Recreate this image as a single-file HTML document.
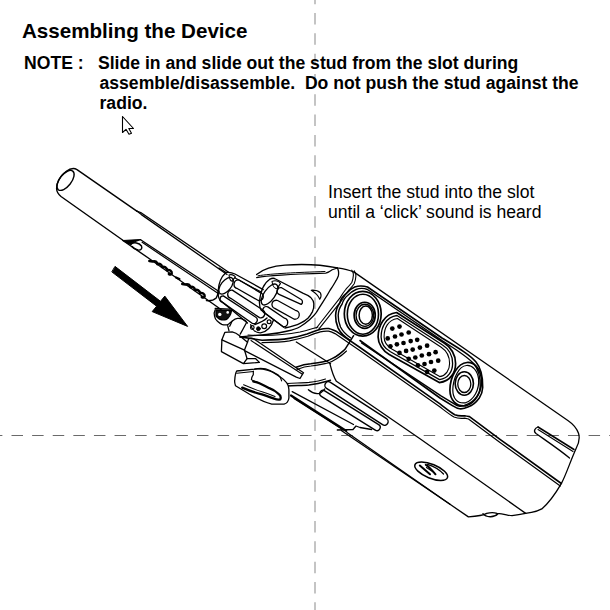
<!DOCTYPE html>
<html><head><meta charset="utf-8">
<style>
html,body{margin:0;padding:0;background:#fff;width:610px;height:610px;overflow:hidden;position:relative;font-family:"Liberation Sans",sans-serif;color:#000}
.t{position:absolute;white-space:nowrap;line-height:1}
#title{left:22px;top:20.5px;font-weight:bold;font-size:20.6px}
.note{font-weight:bold;font-size:17.6px}
.ins{font-size:17.6px}
svg{position:absolute;left:0;top:0}
</style></head><body>
<svg width="610" height="610" viewBox="0 0 610 610">
<line x1="315" y1="0" x2="315" y2="610" stroke="#c4c4c4" stroke-width="2" stroke-dasharray="11.5 8.82" stroke-dashoffset="7.32"/>
<line x1="0" y1="435.5" x2="610" y2="435.5" stroke="#6a6a6a" stroke-width="1" stroke-dasharray="11.5 9.11" stroke-dashoffset="9.11"/>

<g fill="none" stroke="#000" stroke-width="1.4" stroke-linecap="round" stroke-linejoin="round">
<!-- cursor -->
<path d="M122.5,116.5 L122.5,132.5 L126,129.3 L129,134.3 L131.5,133.3 L128.8,128.5 L133.5,128.5 Z" fill="#fff" stroke-width="1.1"/>
<!-- tube -->
<path d="M136.8,211.1 L77,169.6 C74,167.8 70,168.5 66,171.5 C60,176 56.5,183 56.6,188.5 C56.7,192 58,194 61,196.5 L122.9,240.3"/>
<ellipse cx="65.5" cy="180.4" rx="11.8" ry="5.9" transform="rotate(-52 65.5 180.4)"/>
<path d="M136.8,211.1 L140.7,212.5 L229,272.5" stroke-width="1.3"/>
<path d="M136.8,211.1 L141.4,214.6 L227,274.5" stroke-width="1.3"/>
<!-- slot -->
<path d="M140.6,239.8 L219,291.5" stroke-width="1.3"/>
<path d="M142.1,242.3 L219,294" stroke-width="1.2"/>
<path d="M122.9,240.5 L150.5,259.5 L221,309.5"/>
<path d="M206.4,300.6 C210,301 214,300 216.2,298 C217.5,296 218,293.5 218.2,291.4"/>
<path d="M123,240.5 L140.6,239.6 C137,240.5 133,242 131,244.5 C128,243.5 125.5,242 123,240.5 Z" fill="#000" stroke-width="1.2"/>
<path d="M131,244 C134,242 139,242.5 141.5,246 C142.5,248.5 141,250.5 138,250 C135.5,249.5 133,248 132,246.5" stroke-width="1.4"/>

<!-- cursive marks -->
<path d="M0,0.5 L3,-0.8 C5,-2.8 7,-3 8.5,-1 C10,-3 12.5,-3.2 14,-1 C15.5,-3 18.5,-3.2 20,-1 C21.5,-3 24.5,-3 25.5,-1 C26,0.5 25,1.5 23.5,1.2" transform="translate(149.6,260.5) rotate(32)" stroke-width="2.5"/>
<path d="M176,277.5 L179.4,279" stroke-width="2.2"/>
<path d="M0,0.5 L3,-0.8 C5,-2.8 7,-3 8.5,-1 C10,-3 12.5,-3.2 14,-1 C15.5,-3 18.5,-3.2 20,-1 C21.5,-3 24.5,-3 25.5,-1 C26,0.5 25,1.5 23.5,1.2" transform="translate(182.5,283.5) rotate(32)" stroke-width="2.5"/>
<!-- arrow -->
<path d="M115.3,266.6 L160.5,301.3 L164.8,296.1 L187.6,326.4 L152.2,311.6 L156.6,306.2 L112.1,272.1 Z" fill="#000" stroke-width="1"/>
</g>

<g fill="none" stroke="#000" stroke-width="1.3" stroke-linecap="round" stroke-linejoin="round">
<!-- knob 1 -->
<path d="M219,268 L226,272.5 C229,272 232,272.5 235,274 L263.2,289.6"/>
<path d="M234.7,277.8 L261.2,292.1" stroke-width="1.1"/>
<path d="M226,272.5 C221,277 218.5,284 218.2,290.9 C218,294 218.5,298 219.8,300 L247.5,323.1"/>
<ellipse cx="226" cy="285.8" rx="9.8" ry="5" transform="rotate(-52 226 285.8)"/>
<path d="M229,275 C231,274 234,275 235.5,277 C234,278 233,279 233,281 C231,281.5 229.5,280 229,275 Z" stroke-width="1.1"/>
<path d="M238.6,279.8 L260.2,292.6 A4,4 0 0 1 258.3,300.5 L237.6,288.7 A4.5,4.5 0 0 1 238.6,279.8 Z"/>
<path d="M232.3,290.1 L262.5,309.8 A4.2,4.2 0 0 1 259.5,317.6 L230.7,298.3 A4.2,4.2 0 0 1 232.3,290.1 Z"/>
<path d="M223.3,295.9 L255.5,317 A3.6,3.6 0 0 1 252.5,323.5 L222.5,302.4 A3.3,3.3 0 0 1 223.3,295.9 Z"/>
<!-- knob 2 -->
<path d="M269.8,279.3 C264,283 260.5,290 259.4,302.5 C259.5,306 260,308 261,310 L283.5,327"/>
<path d="M269.8,279.3 C272,278 274,278 275.5,279 L303.3,293.3 C306.5,294.5 309.5,296 311.1,297.9 C313,300 313.8,302 313.8,303.8 C314,307 313.5,309.5 312.5,311.6 C311,314.5 309.5,316.5 307.9,318.2 C305.5,320.5 303,322 300,323.4 C296,325.5 292,326.5 285,328"/>
<ellipse cx="269.5" cy="294.5" rx="12.2" ry="5.5" transform="rotate(-55 269.5 294.5)"/>
<path d="M272,281.5 C275,280 279,281 280.5,283.5 C279,285 278,287 278,289 C275,289 272.5,286 272,281.5 Z" stroke-width="1.1"/>
<path d="M281.6,287.7 L301.2,299.5 A3,3 0 0 1 301.2,304.4 L279.6,294.6 A2.8,2.8 0 0 1 281.6,287.7 Z"/>
<path d="M277.6,300.5 L295.3,310.3 A4,4 0 0 1 294.3,319.2 L274.7,308.4 A3.5,3.5 0 0 1 277.6,300.5 Z"/>
<path d="M267.8,306.9 L284.5,318.2 A4.5,4.5 0 0 1 283.5,327 L264.8,313.3 A3,3 0 0 1 267.8,306.9 Z"/>
<!-- collar with holes -->
<path d="M250.7,324.6 C252,330 256,333 260.5,332.8 C266,332 271,328 273.6,319.7"/>
<path d="M254.8,324.6 C259,323 264,321 267,318"/>
<circle cx="252.3" cy="327.5" r="1.8" stroke-width="1.2"/>
<circle cx="258.4" cy="328.7" r="1.9" fill="#000" stroke-width="1"/>
<circle cx="264.2" cy="326.2" r="2.4" stroke-width="1.2"/>
<circle cx="269.1" cy="321.7" r="1.9" stroke-width="1.2"/>
<!-- hood -->
<path d="M256.6,274.6 C262,270 272,266 285,265.2 C300,264 320,264.5 337.5,267.9 C342,268.5 348,269.5 354.1,272.1"/>
<path d="M256.6,277.6 C270,275 295,274 325.7,273.1 C328,272.8 330,271.5 332.2,269.8 L337.5,267.9" stroke-width="1.1"/>
<path d="M258,275.8 C272,273.5 297,272.5 325,271.5" stroke-width="1"/>
<path d="M337,267.7 C338.5,269 339,273 338.3,275.9 C337.5,278 336.5,280 335.4,281.7 C333.5,285 332,287.5 330.2,290 C328,294 325.5,298 323,301.8 C321,305 318.5,309 316.4,312.3 C314.5,315 312,317.5 309.8,319.5 C307,322 304,324.5 300,326.7 C296,329 292,330 287.7,331 C280,333 273,334 266.4,334.5 L240,336.9"/>
<path d="M311.2,290.2 C315,290 318.5,291 320.4,292.8 C321.5,295 321,297.5 319.8,299.3 C318.5,296 316,293 311.2,290.2 Z" stroke-width="1.1"/>
</g>

<g fill="none" stroke="#000" stroke-width="1.3" stroke-linecap="round" stroke-linejoin="round">
<!-- body top edge + end -->
<path d="M354.1,272.1 L568.2,420.7 C573,424 577,429 578.5,433.3 C580,438 579,443 576.2,448.2 C570,462 566,475 561.3,483.6 C557,491 550,502 541.8,508.9 C536,512 530,513 512,515.7 C508,515.7 505,514 497,513.4 C493,512 490,512.5 486.7,513.4 C484,515 482,516 468.4,516.9 L450,504.3 L347,432.5"/>
<!-- body end-left double curve -->
<path d="M351.8,270.2 C353,272 353.5,274 353.4,275.1 C353.2,278 352.8,280 351.8,282.5 C350,285 348,287 346.1,289 C344,291.5 342,294.5 340,297.9 L316.4,328" stroke-width="1.1"/>
<path d="M354.3,270.8 C355.5,273 356,275 355.9,276 C355.7,279 355.2,281.5 354.2,283.8 C352.4,286.5 350.4,288.5 348.5,290.5 C346.5,293 344.5,296 342.5,299.3 L318.6,329.3" stroke-width="1.1"/>
<!-- frame (outer double) -->
<path d="M349.8,340.1 C345,337 340.5,333 338,327.8 C336,323 335.5,319 335.6,315.5 C335.8,310 337.5,306 339.7,303.2 C341,298 343,296 345.8,293.9 C348,291 351,288.5 354.7,287 C359,285.5 363,285.6 367.5,287 L442,338 C460,349 470,355 476,362 C481,368 483,376 482.7,387.5 C482.5,392 481,395.5 479.3,398 C476,402.5 472.5,405.5 468.5,406.8 C465,408.5 462,409 459.7,408.8 C457,408.5 455,407.2 452.8,405.8 L440,398 L360,340.5" stroke-width="1.6"/>
<path d="M350.5,337.8 C346.5,335 342.8,331.5 340.5,327 C338.6,322.5 338.1,319 338.2,315.5 C338.4,310.5 340,306.8 342,304.2 C343.5,299.5 345,297.5 347.6,295.5 C350,293 352.5,291 356,289.5 C360,288 363.5,288 367.5,289.5 L442,340.5 C459,351.5 468,357 473.5,363.5 C478.5,369 480.5,376.5 480.2,387 C480,392 478.5,394.5 477,396.5 C474,400.5 471,403 467.5,404.2 C464.5,405.8 462,406.3 459.8,406.2 C457.5,406 455.8,405 453.8,403.6 L441,395.8 L361.5,343" stroke-width="1.4"/>
<!-- ring 1 -->
<ellipse cx="362.75" cy="313.75" rx="18.45" ry="22.35" stroke-width="1.7"/>
<ellipse cx="362.9" cy="314.2" rx="15.6" ry="20" stroke-width="1.6"/>
<ellipse cx="364.7" cy="315.3" rx="10.55" ry="13.05" stroke-width="1.7"/>
<ellipse cx="364.9" cy="315.3" rx="8.85" ry="11.05" stroke-width="1.3"/>
<ellipse cx="365.75" cy="315.2" rx="6.65" ry="9.1" stroke-width="1.5"/>
<!-- grille stadium -->
<path d="M396.6,312.5 L443.8,342.8 C451,347 455.6,355 455.6,363.4 C455.6,372 451,381 439.3,382.6 L389.2,354.6 C383,351 378.1,344 378.1,336.9 C378.1,326 384,314 396.6,312.5 Z" stroke-width="1.7"/>
<path d="M397,315.5 L442.5,345 C449,349 452.6,356 452.6,363.4 C452.6,371 448.5,378.5 439.5,379.6 L390.5,351.8 C385,348.5 381.1,343 381.1,336.9 C381.1,327 386,317 397,315.5 Z" stroke-width="1.3"/>
<path d="M397.4,318.5 L441.2,347.2 C447,351 449.6,357 449.6,363.4 C449.6,370 446,375.5 439.7,376.6 L391.8,349 C387,346 384.1,341.5 384.1,336.9 C384.1,328 388,320 397.4,318.5 Z" stroke-width="1.1"/>
<g fill="#000" stroke="none"><circle cx="392.3" cy="328.6" r="2.35"/><circle cx="399.5" cy="326.6" r="2.35"/><circle cx="387.7" cy="338.4" r="2.35"/><circle cx="395" cy="336.5" r="2.35"/><circle cx="401.5" cy="334.5" r="2.35"/><circle cx="408.7" cy="332.5" r="2.35"/><circle cx="390.4" cy="346.3" r="2.35"/><circle cx="396.9" cy="344.3" r="2.35"/><circle cx="403.5" cy="343" r="2.35"/><circle cx="410.7" cy="341.1" r="2.35"/><circle cx="417.2" cy="339.8" r="2.35"/><circle cx="399.5" cy="352.9" r="2.35"/><circle cx="406.1" cy="350.9" r="2.35"/><circle cx="412.7" cy="349.6" r="2.35"/><circle cx="419.9" cy="347.6" r="2.35"/><circle cx="427.1" cy="345.7" r="2.35"/><circle cx="408.7" cy="358.8" r="2.35"/><circle cx="415.3" cy="357.5" r="2.35"/><circle cx="421.8" cy="355.5" r="2.35"/><circle cx="429" cy="354.2" r="2.35"/><circle cx="435.6" cy="352.2" r="2.35"/><circle cx="417.9" cy="365.3" r="2.35"/><circle cx="424.5" cy="364" r="2.35"/><circle cx="431" cy="362" r="2.35"/><circle cx="438.2" cy="360.7" r="2.35"/><circle cx="427.1" cy="371.9" r="2.35"/><circle cx="434.3" cy="370.6" r="2.35"/></g>
<!-- ring 2 -->
<path d="M467,362.5 C474,362 480,368 481.4,378.3 C482.5,390 476,403 466,405.8 C456,407 450,400 449.9,390.1 C450,376 458,363 467,362.5 Z" stroke-width="1.7"/>
<path d="M466.5,365.5 C472.5,365 477.5,370.5 478.6,379 C479.5,389.5 474,400 465.5,402.8 C457,404 452.8,398 452.8,390 C453,378 459,366 466.5,365.5 Z" stroke-width="1.2"/>
<ellipse cx="464.3" cy="383.5" rx="9.15" ry="11.8" stroke-width="1.6"/>
<ellipse cx="464.3" cy="384" rx="6.55" ry="8.5" stroke-width="1.3"/>
<!-- body crease lines -->

<path d="M329.8,363.3 C331,368 333,376 336.4,381.3 L420,438.7 L525.7,513.4"/>
<!-- slot right -->
<path d="M538,427 C535,428 533,431 536,433.5 C548,442 560,450 569.5,458"/>
<path d="M538,427 L574,449.5" stroke-width="1.5"/>
<path d="M538,429.5 L573,451.5" stroke-width="1.1"/>
<!-- small pill at bottom -->
<path d="M483,513.6 C486,517.5 494,518 498,513.8"/>
<!-- logo -->
<ellipse cx="431.2" cy="471.2" rx="17.5" ry="7" transform="rotate(22 431.2 471.2)" stroke-width="1.5"/>
<path d="M419.8,465.6 L430,474.3" stroke-width="2"/>
<path d="M425.8,464.8 C429,466.5 432,470 435.5,474.3" stroke-width="2"/>
<path d="M427.5,464.3 C433,466 439,469 443.5,474" stroke-width="1.3"/>
<path d="M426.5,467.5 L434,472.5" stroke-width="1.2"/>
</g>

<g fill="none" stroke="#000" stroke-width="1.3" stroke-linecap="round" stroke-linejoin="round">
<!-- nut under knob1 -->
<path d="M215.2,309.8 C214,312 214,315 214.6,316.4 C215,318.5 216,320 217.2,321 C219,322.5 220,323.5 221.8,324.3 C223.5,325 225,325 227,324.9 C229,324.5 230.5,322 232.3,321"/>
<path d="M216,310 L231.6,310.5 C231,314 229,318 226,319.7 C222,320.5 218,318.5 216,316 Z" fill="#111"/>
<circle cx="219.8" cy="314.4" r="1.7" fill="#fff" stroke="none"/><circle cx="227.7" cy="312.4" r="1.3" fill="#fff" stroke="none"/>
<path d="M215.2,308.5 L229.7,309.2"/>
<path d="M227.7,325.6 L229,330.8"/><path d="M231.6,322.3 L229.7,326.2"/>
<path d="M232.3,321 C234,319.5 236,318.5 237.5,318.4 C240,318.2 242,318.7 243.4,319.7 C245,320.5 246.5,321.5 246.7,322.3 L242.8,329.5 L240.2,334.1"/>
<!-- latch block -->
<path d="M221.9,339.8 L224.8,332.4 L232.2,331.9 C235,332.5 237.5,334 239.6,335.8 L247.5,342.2 L244.5,350.1 Z"/>
<path d="M221.9,339.8 L221.4,351.6 L243.4,363.6 L259.4,362.4 L255.7,358.7 L247.1,358.7 L243.4,363.6"/>
<path d="M244.5,350.1 L247.1,358.7"/>
<!-- long bar -->
<path d="M247.5,342.2 L248.5,339 C250,338 252,338 254,339 L303.5,372.7 L300,378.5 L296.3,377.2 L244.5,350.6"/>
<path d="M251,340.5 L302,374" stroke-width="1.1"/>
<!-- hood lower lines -->
<path d="M240,336.9 L262,340.2 C275,340 283,339.5 289.1,338.4 C296,337 302,335.5 307.1,333.9 C312,332 316,330.5 319.8,329.4 C323,328.5 326,328.3 328.8,328.5 C331,329 333,330 336,331.2 L360,347.5 L440,403.9 C446,408.5 450,412 454.8,414.7 C458,416 462,416 464.6,415.7 C466.5,416 468,416.3 469.5,416.6 L500,439.3 L561.3,483.5" stroke-width="1.6"/>
<path d="M262,342.6 C275,342.4 283,341.9 289.5,340.9 C296.5,339.5 302.5,337.9 307.8,336.3 C312.7,334.4 316.6,332.9 320.2,331.9 C323.2,331.1 326,330.9 328.5,331.1 C330.5,331.5 332.5,332.4 335,333.6 L359,350 L439,406.3 C445,410.8 449,414.2 454,417 C457.5,418.5 462,418.5 464.6,418.2 L468.5,419 L499,441.8 L560.3,486" stroke-width="1.2"/>
<path d="M248,335 C265,336 285,335 300,332 C308,330 314,328 318,327" stroke-width="1.1"/>
<path d="M296.3,342 L330.6,363.7"/>
<path d="M296,367.3 C302,365 306,364 310.7,363.7 C317,363 322,362 327,361 C330,360 333,358 336,356.5 C340,354 342,352 345,349.3 L353.6,335.7" stroke-width="1.5"/>
<path d="M297,369.5 C303,367 307,366.2 311,366 C318,365.2 323,364 328,363 C331,362 334,360.5 337,358.5 C341,356 343.5,354 346.5,351" stroke-width="1.1"/>
<!-- housing bottom edge E -->
<path d="M286.9,386.1 C295,385.5 302,385.5 308.7,384.9 C316,384 321,383 325.9,381.5 L330.5,380.3" stroke-width="1.5"/>
<path d="M287.5,383.5 C296,383 303,383 309,382.4 C316,381.5 321,380.5 325.5,379" stroke-width="1.1"/>
<!-- rail -->
<rect x="-37" y="-3.6" width="74" height="7.2" rx="3.6" transform="translate(356.5,403.5) rotate(33)" stroke-width="1.4"/>
<rect x="-35" y="-3.2" width="70" height="6.4" rx="3.2" transform="translate(350,410.5) rotate(32)" stroke-width="1.4"/>
<path d="M292.2,391.6 L353.5,424.5" stroke-width="1.3"/>
<path d="M291,395.5 L346.3,431" stroke-width="2.2"/>
<path d="M294,398.5 L341,428.5" stroke-width="1.2"/>
<path d="M337.3,430 L353,429.5 L356,426 L360,427.5 L371.6,429.5" stroke-width="1.3"/>
<path d="M308.4,389.8 C312,393 316,394 319.3,393.4 C322,392.5 323,391 324.7,389" />
<path d="M341.3,430.5 L450,504.3"/>
<!-- swirl button -->
<path d="M236.7,371 L254.5,369.1 C260,368 266,368.5 270,370.5 L280.3,377 C285,380 288.9,384 288.9,389.4 L288.9,398 C288.5,401 286.5,403.5 284,404.2 L271.7,404.2 C264,402 256,398 249.6,394.3 L235.5,385.7 C234.5,383 234.5,381 234.8,379.6 C235,376 235.5,373 236.7,371 Z" fill="#fff"/>
<path d="M236.7,373.2 L253.5,371.5" stroke-width="1.1"/>
<path d="M254.5,369.1 C262,368.5 270,370 277.9,374.7 C280,376.5 281.5,378.5 281.6,380.8" stroke-width="1.2"/>
<path d="M253.3,371 L253.3,374.7 C252,376.5 251.4,378 251.4,379.6 C253,381 255,381.5 257,382" stroke-width="1.2"/>
<path d="M242.2,387.6 C250,391 256,393 261.9,394.3 C266,395.5 270,397 274.2,398.6 C276,399.3 278.5,399.8 280.3,399.3 C281,397.5 280.5,395.5 279.1,394.3 C276,391.5 273,389.5 269.3,388.2 C266,386.5 262.5,384.8 259.4,383.3 C257,382.2 255,381.8 253.3,381.4" stroke-width="2.3"/>
<path d="M243.6,384.8 C250,387.5 256,390 262,391.8 C267,393.3 271,394.8 275,396.5" stroke-width="1.1"/>
</g>
</svg>
<div class="t" id="title">Assembling the Device</div>
<div class="t note" style="left:24px;top:54.8px">NOTE :</div>
<div class="t note" style="left:98px;top:54.8px">Slide in and slide out the stud from the slot during</div>
<div class="t note" style="left:99.5px;top:74.8px">assemble/disassemble.&nbsp; Do not push the stud against the</div>
<div class="t note" style="left:99.5px;top:95.4px">radio.</div>
<div class="t ins" style="left:328px;top:184px">Insert the stud into the slot</div>
<div class="t ins" style="left:328px;top:204px">until a ‘click’ sound is heard</div>
</body></html>
